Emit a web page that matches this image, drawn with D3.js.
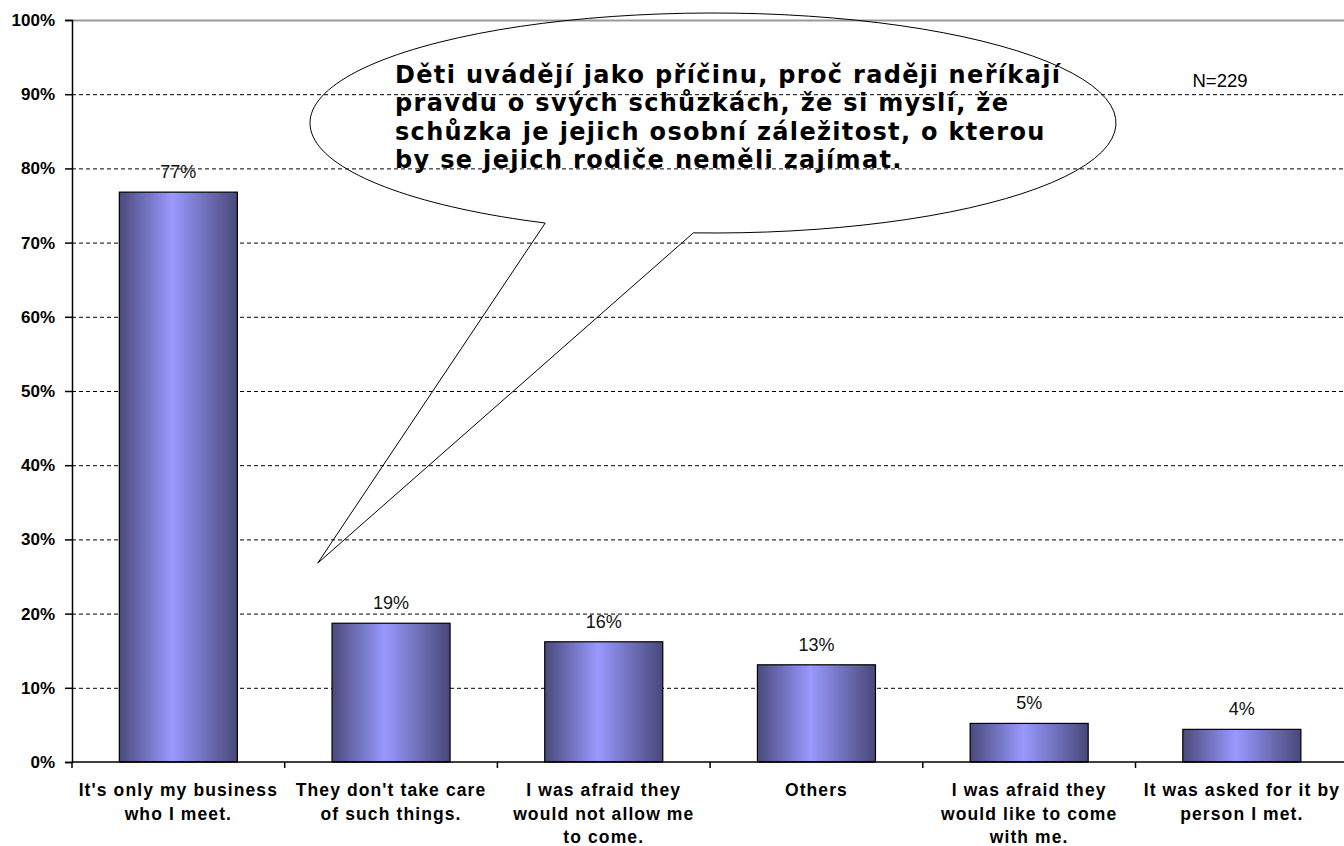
<!DOCTYPE html>
<html>
<head>
<meta charset="utf-8">
<script src="https://cdn.jsdelivr.net/npm/d3@7"></script>
<style>
  body { margin: 0; background: #fff; }
  svg { display: block; }
</style>
</head>
<body>
<svg id="chart" width="1344" height="846"></svg>
<script>
// Data
const categories = [
  "It's only my business who I meet.",
  "They don't take care of such things.",
  "I was afraid they would not allow me to come.",
  "Others",
  "I was afraid they would like to come with me.",
  "It was asked for it by person I met."
];
const categoryLines = [
  ["It's only my business", "who I meet."],
  ["They don't take care", "of such things."],
  ["I was afraid they", "would not allow me", "to come."],
  ["Others"],
  ["I was afraid they", "would like to come", "with me."],
  ["It was asked for it by", "person I met."]
];
const values = [76.8, 18.7, 16.2, 13.1, 5.2, 4.4];
const valueLabels = ["77%", "19%", "16%", "13%", "5%", "4%"];
const yTicks = [0, 10, 20, 30, 40, 50, 60, 70, 80, 90, 100];
const noteLines = [
  "Děti uvádějí jako příčinu, proč raději neříkají",
  "pravdu o svých schůzkách, že si myslí, že",
  "schůzka je jejich osobní záležitost, o kterou",
  "by se jejich rodiče neměli zajímat."
];
const sampleText = "N=229";

// Layout
const plotLeft = 72, plotTop = 20, plotBottom = 762;
const bandStep = 212.7;
const plotRight = plotLeft + bandStep * categories.length;
const labelFont = "'Liberation Sans', Arial, sans-serif";

const svg = d3.select("#chart");

const x = d3.scaleBand()
  .domain(categories)
  .range([plotLeft, plotRight])
  .padding(0);

const y = d3.scaleLinear()
  .domain([0, 100])
  .range([plotBottom, plotTop]);

// Bar gradient
const defs = svg.append("defs");
const grad = defs.append("linearGradient")
  .attr("id", "barGrad")
  .attr("x1", "0%").attr("x2", "100%")
  .attr("y1", "0%").attr("y2", "0%");
grad.append("stop").attr("offset", "0%").attr("stop-color", "#4a4a7c");
grad.append("stop").attr("offset", "45%").attr("stop-color", "#9999ff");
grad.append("stop").attr("offset", "100%").attr("stop-color", "#48487a");

// Grid lines (dashed), top line solid grey
svg.append("g")
  .selectAll("line")
  .data(yTicks.filter(d => d > 0))
  .join("line")
  .attr("x1", plotLeft)
  .attr("x2", plotRight)
  .attr("y1", d => y(d) + 0.5)
  .attr("y2", d => y(d) + 0.5)
  .attr("stroke", d => d === 100 ? "#999" : "#000")
  .attr("stroke-width", d => d === 100 ? 2 : 1)
  .attr("stroke-dasharray", d => d === 100 ? null : "4,3");

// Bars
const barWidth = x.bandwidth() * 0.555;
svg.append("g")
  .selectAll("rect")
  .data(categories)
  .join("rect")
  .attr("x", d => x(d) + (x.bandwidth() - barWidth) / 2)
  .attr("y", (d, i) => y(values[i]))
  .attr("width", barWidth)
  .attr("height", (d, i) => y(0) - y(values[i]))
  .attr("fill", "url(#barGrad)")
  .attr("stroke", "#000")
  .attr("stroke-width", 1.2);

// Value labels
svg.append("g")
  .selectAll("text")
  .data(categories)
  .join("text")
  .attr("x", d => x(d) + x.bandwidth() / 2)
  .attr("y", (d, i) => y(values[i]) - 14)
  .attr("text-anchor", "middle")
  .style("font-family", labelFont)
  .style("font-size", "18px")
  .style("fill", "#111")
  .text((d, i) => valueLabels[i]);

// Y axis
const yAxis = svg.append("g")
  .attr("transform", `translate(${plotLeft},0)`)
  .call(d3.axisLeft(y).tickValues(yTicks).tickSize(7).tickPadding(10).tickFormat(d => d + "%"));
yAxis.select(".domain").attr("stroke", "#000").attr("stroke-width", 1.5);
yAxis.selectAll(".tick line").attr("stroke", "#000").attr("stroke-width", 1.5);
yAxis.selectAll(".tick text")
  .style("font-family", labelFont)
  .style("font-size", "17px")
  .style("font-weight", "bold")
  .style("fill", "#000");

// X axis line and ticks at category boundaries
svg.append("line")
  .attr("x1", plotLeft).attr("x2", plotRight)
  .attr("y1", plotBottom).attr("y2", plotBottom)
  .attr("stroke", "#000").attr("stroke-width", 1.5);
svg.append("g")
  .selectAll("line")
  .data(categories)
  .join("line")
  .attr("x1", d => x(d)).attr("x2", d => x(d))
  .attr("y1", plotBottom).attr("y2", plotBottom + 6)
  .attr("stroke", "#000").attr("stroke-width", 1.5);

// Category labels
const catText = svg.append("g")
  .selectAll("text")
  .data(categories)
  .join("text")
  .attr("text-anchor", "middle")
  .style("font-family", labelFont)
  .style("font-size", "17.5px")
  .style("font-weight", "bold")
  .style("letter-spacing", "1.1px")
  .style("fill", "#000");
catText.each(function(d, i) {
  const t = d3.select(this);
  categoryLines[i].forEach((line, j) => {
    t.append("tspan")
      .attr("x", x(d) + x.bandwidth() / 2)
      .attr("y", 796 + j * 23.5)
      .text(line);
  });
});

// N label
svg.append("text")
  .attr("x", 1220)
  .attr("y", 87)
  .attr("text-anchor", "middle")
  .style("font-family", labelFont)
  .style("font-size", "18.5px")
  .style("fill", "#000")
  .text(sampleText);

// Speech-bubble callout
const cx = 713, cy = 123, rx = 403, ry = 110;
const ptAt = deg => [cx + rx * Math.cos(deg * Math.PI / 180), cy + ry * Math.sin(deg * Math.PI / 180)];
const a = ptAt(114.6), b = ptAt(92.8);
const tip = [x(categories[1]) + 33, y(26.8)];
svg.append("path")
  .attr("d", `M${a[0]},${a[1]} A${rx},${ry} 0 1 1 ${b[0]},${b[1]} L${tip[0]},${tip[1]} Z`)
  .attr("fill", "none")
  .attr("stroke", "#000")
  .attr("stroke-width", 1);

const note = svg.append("text")
  .style("font-family", "'DejaVu Sans', Verdana, sans-serif")
  .style("font-weight", "bold")
  .style("font-size", "24px")
  .style("fill", "#000");
noteLines.forEach((line, j) => {
  note.append("tspan")
    .attr("x", 395)
    .attr("y", 83 + j * 28.3)
    .text(line);
});
// fit first line width to the reference (~665px) with letter spacing
const first = note.select("tspan");
const w0 = first.node().getComputedTextLength();
const nChars = noteLines[0].length;
note.style("letter-spacing", ((665 - w0) / (nChars - 1)).toFixed(2) + "px");
</script>
</body>
</html>
